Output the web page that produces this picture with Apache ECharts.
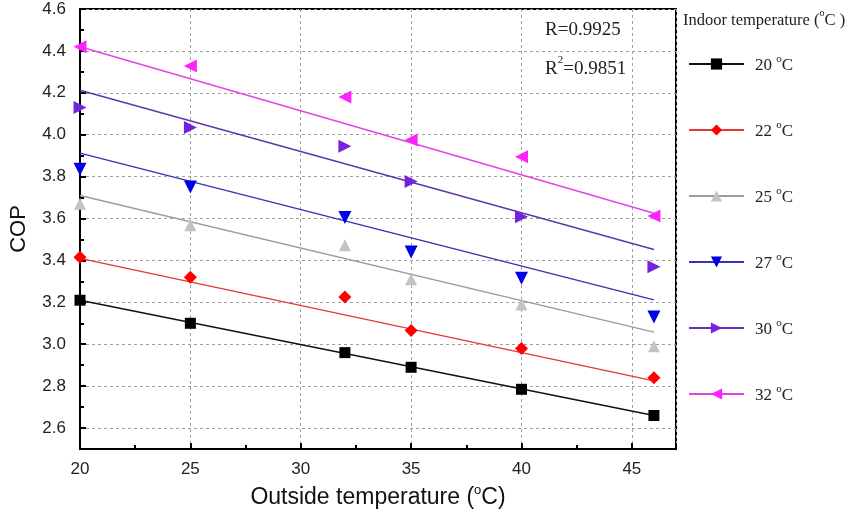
<!DOCTYPE html>
<html><head><meta charset="utf-8">
<script src="https://cdn.jsdelivr.net/npm/echarts@6/dist/echarts.min.js"></script>
<style>html,body{margin:0;padding:0;background:#fff}#c{width:850px;height:517px}</style>
</head><body><div id="c"></div>
<script>
// ---- data ----
const outsideTemps = [20, 25, 32, 35, 40, 46];
const seriesNames = ['20', '22', '25', '27', '30', '32'];
const cop20 = [3.21, 3.10, 2.96, 2.89, 2.785, 2.66];
const cop22 = [3.415, 3.32, 3.225, 3.065, 2.98, 2.84];
const cop25 = [3.67, 3.568, 3.472, 3.31, 3.19, 2.99];
const cop27 = [3.835, 3.75, 3.605, 3.44, 3.315, 3.13];
const cop30 = [4.13, 4.035, 3.945, 3.777, 3.608, 3.37];
const cop32 = [4.42, 4.328, 4.18, 3.975, 3.895, 3.612];
const fitX = [20, 46];
const fitStart = [3.21, 3.41, 3.71, 3.912, 4.212, 4.42];
const fitEnd = [2.66, 2.825, 3.058, 3.212, 3.452, 3.625];
const statText = ['R=0.9925', 'R2=0.9851'];
const xTicks = [20, 25, 30, 35, 40, 45];
const yTicks = [2.6, 2.8, 3.0, 3.2, 3.4, 3.6, 3.8, 4.0, 4.2, 4.4, 4.6];

// ---- styles ----
const copSets = [cop20, cop22, cop25, cop27, cop30, cop32];
const markerColors = ['#000000', '#ff0000', '#c3c3c3', '#0000e8', '#7422dc', '#ff22ff'];
const lineColors = ['#111111', '#e23a3a', '#9c9c9c', '#3434b4', '#5e34b0', '#e046e0'];
const symbols = ['rect', 'diamond', 'triangle', 'triangle', 'triangle', 'triangle'];
const rotations = [0, 0, 0, 180, -90, 90];
const sizes = [11, 13, 12, 13, 13, 13];
const serif = '"Liberation Serif","Times New Roman",serif';
const sans = '"Liberation Sans",Arial,sans-serif';

const series = [];
seriesNames.forEach((n, i) => {
  series.push({
    name: n + ' °C',
    type: 'line',
    data: [[fitX[0], fitStart[i]], [fitX[1], fitEnd[i]]],
    symbol: symbols[i],
    symbolRotate: rotations[i],
    symbolSize: sizes[i],
    showSymbol: false,
    lineStyle: { color: lineColors[i], width: 1.4 },
    itemStyle: { color: markerColors[i] },
    z: 2,
    silent: true
  });
  series.push({
    name: n + ' pts',
    type: 'scatter',
    data: outsideTemps.map((x, j) => [x, copSets[i][j]]),
    symbol: symbols[i],
    symbolRotate: rotations[i],
    symbolSize: sizes[i],
    itemStyle: { color: markerColors[i], opacity: 1 },
    z: 3,
    silent: true
  });
});

const chart = echarts.init(document.getElementById('c'), null, { renderer: 'canvas' });
chart.setOption({
  animation: false,
  backgroundColor: '#fff',
  grid: { left: 80, right: 174, top: 9, bottom: 68, show: true, borderColor: '#000', borderWidth: 2, backgroundColor: 'transparent' },
  xAxis: {
    type: 'value', min: 20, max: 47, interval: 5,
    name: 'Outside temperature ({s|o}C)', nameLocation: 'middle', nameGap: 35,
    nameTextStyle: { fontFamily: sans, fontSize: 23, color: '#111',
      rich: { s: { fontFamily: sans, fontSize: 13, verticalAlign: 'top', lineHeight: 27, color: '#111' } } },
    axisLine: { show: true, lineStyle: { color: '#000', width: 2 } },
    axisTick: { show: true, inside: true, length: 6, lineStyle: { color: '#000', width: 2 } },
    minorTick: { show: true, splitNumber: 2, length: 4, lineStyle: { color: '#000', width: 2 } },
    axisLabel: { fontFamily: sans, fontSize: 17, color: '#222', margin: 12, showMaxLabel: false,
      formatter: v => xTicks.indexOf(v) >= 0 ? String(v) : '' },
    splitLine: { show: true, lineStyle: { color: '#a0a0a0', type: [3, 3], width: 1 } }
  },
  yAxis: {
    type: 'value', min: 2.5, max: 4.6, minInterval: 0.2, maxInterval: 0.2,
    name: 'COP', nameLocation: 'middle', nameGap: 50, nameRotate: 90,
    nameTextStyle: { fontFamily: sans, fontSize: 22, color: '#111' },
    axisLine: { show: true, lineStyle: { color: '#000', width: 2 } },
    axisTick: { show: true, inside: true, length: 6, lineStyle: { color: '#000', width: 2 } },
    minorTick: { show: true, splitNumber: 2, length: 4, lineStyle: { color: '#000', width: 2 } },
    axisLabel: { fontFamily: sans, fontSize: 17, color: '#222', margin: 14,
      formatter: v => yTicks.some(t => Math.abs(t - v) < 1e-6) ? v.toFixed(1) : '' },
    splitLine: { show: true, lineStyle: { color: '#a0a0a0', type: [3, 3], width: 1 } }
  },
  legend: {
    orient: 'vertical', left: 688, top: 54, padding: 0,
    data: seriesNames.map(n => n + ' °C'),
    itemWidth: 55, itemHeight: 14, itemGap: 46,
    selectedMode: false,
    formatter: name => '{a|' + name.split(' ')[0] + ' }{s|o}{a|C}',
    textStyle: { fontFamily: serif, fontSize: 17, color: '#222', padding: [0, 0, 0, 6],
      rich: { a: { fontFamily: serif, fontSize: 17, color: '#222', lineHeight: 20, verticalAlign: 'bottom' },
              s: { fontFamily: serif, fontSize: 11, color: '#222', lineHeight: 20, verticalAlign: 'top' } } }
  },
  graphic: [
    { type: 'text', left: 683, top: 8,
      style: { text: '{a|Indoor temperature (}{s|o}{a|C )}', fontFamily: serif,
        rich: { a: { fontFamily: serif, fontSize: 16.5, fill: '#222', lineHeight: 21, verticalAlign: 'bottom' },
                s: { fontFamily: serif, fontSize: 10, fill: '#222', lineHeight: 21, verticalAlign: 'top' } } } },
    { type: 'text', left: 545, top: 21,
      style: { text: statText[0], fontFamily: serif, fontSize: 19, fill: '#222' } },
    { type: 'text', left: 545, top: 55,
      style: { text: '{a|' + statText[1].slice(0, 1) + '}{s|' + statText[1].slice(1, 2) + '}{a|' + statText[1].slice(2) + '}',
        rich: { a: { fontFamily: serif, fontSize: 19, fill: '#222', lineHeight: 24, verticalAlign: 'bottom' },
                s: { fontFamily: serif, fontSize: 11, fill: '#222', lineHeight: 24, verticalAlign: 'top' } } } }
  ],
  series: series
});
</script></body></html>
